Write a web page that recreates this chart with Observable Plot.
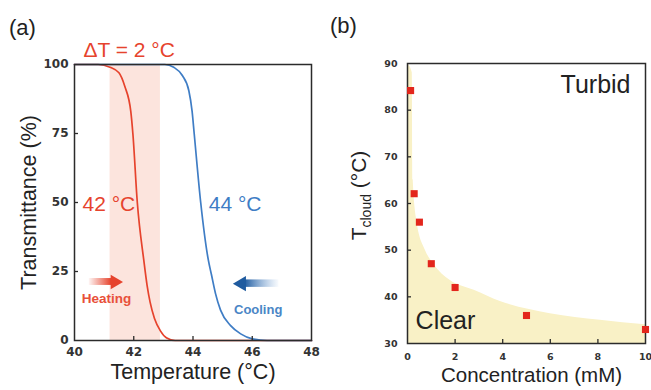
<!DOCTYPE html>
<html><head><meta charset="utf-8">
<script src="https://cdn.jsdelivr.net/npm/d3@7"></script>
<script src="https://cdn.jsdelivr.net/npm/@observablehq/plot@0.6"></script>
<style>
body{margin:0;background:#fff}
#wrap{position:relative;width:651px;height:390px;overflow:hidden;font-family:"Liberation Sans",Arial,sans-serif}
#wrap svg{position:absolute;top:0;overflow:visible}
.plabel{position:absolute;font-size:22px;color:#222;line-height:1}
</style></head><body>
<div id="wrap"><div class="plabel" style="left:9px;top:17px">(a)</div><div class="plabel" style="left:330px;top:15px">(b)</div></div>
<script>
// ---- Panel (a): transmittance vs temperature ----
const tempTicks = [40, 42, 44, 46, 48];
const transTicks = [0, 25, 50, 75, 100];
const heatT   = [40, 40.8, 41.2, 41.5, 41.7, 41.9, 41.97, 42.12, 42.34, 42.45, 42.55, 42.7, 42.9, 43.1, 43.4, 48];
const heatPct = [100, 100, 99, 97, 92, 83, 75, 50, 29, 20, 14, 8, 3.5, 1, 0, 0];
const coolT   = [40, 43.05, 43.35, 43.64, 43.86, 43.97, 44.04, 44.26, 44.52, 44.62, 44.76, 44.93, 45.27, 45.61, 46.0, 46.5, 48];
const coolPct = [100, 100, 99, 96, 90.5, 83, 75, 50, 29, 24, 17, 11, 5.4, 2.4, 0.6, 0, 0];
const hysteresisBand = [41.2, 42.9];
const xLabelA = "Temperature (°C)";
const yLabelA = "Transmittance (%)";
const annA = [
  {text: "ΔT = 2 °C", x: 40.3, y: 105},
  {text: "42 °C", x: 40.27, y: 49.5},
  {text: "44 °C", x: 44.53, y: 49.5}
];
const heatArrow = {x1: 40.5, x2: 41.25, tip: 41.36, y: 21.2, label: "Heating", lx: 41.08, ly: 15};
const coolArrow = {x1: 46.9, x2: 45.75, tip: 45.64, y: 20.6, label: "Cooling", lx: 46.2, ly: 11.2};

// ---- Panel (b): cloud point vs concentration ----
const concTicks = [0, 2, 4, 6, 8, 10];
const tcloudTicks = [30, 40, 50, 60, 70, 80, 90];
const concMM = [0.13, 0.28, 0.5, 1, 2, 5, 10];
const tCloud = [84.2, 62.1, 56, 47.1, 42, 36, 33];
const clearC = [0, 0.2, 0.24, 0.4, 0.75, 1.1, 1.8, 2.8, 3.9, 6, 8.1, 10];
const clearT = [90, 88, 65, 56, 50, 47, 43.5, 41.4, 39, 36.4, 35, 34];
const xLabelB = "Concentration (mM)";
const yLabelB = "Tcloud (°C)";
const annB = [
  {text: "Turbid", x: 9.37, y: 85.3},
  {text: "Clear", x: 0.34, y: 34.9}
];

const red = "#e6432d", blue = "#3f7dc5", ink = "#2b2b2b";
const LF = "Liberation Sans, Arial, sans-serif";

const heatData = heatT.map((t, i) => ({t, p: heatPct[i]}));
const coolData = coolT.map((t, i) => ({t, p: coolPct[i]}));
const pts = concMM.map((c, i) => ({c, t: tCloud[i]}));
const boundary = clearC.map((c, i) => ({c, t: clearT[i]}));

const tickTextA = {tickSize: 0, fontSize: 12, fontWeight: "bold", fill: "#333", label: null};
const plotA = Plot.plot({
  width: 330, height: 390, marginLeft: 74, marginRight: 19, marginTop: 64, marginBottom: 50,
  style: {fontFamily: "DejaVu Sans", background: "transparent", overflow: "visible"},
  x: {domain: [40, 48]}, y: {domain: [0, 100]},
  marks: [
    Plot.rect([hysteresisBand], {x1: d => d[0], x2: d => d[1], y1: 0, y2: 100, fill: "#fce4dd"}),
    Plot.line(heatData, {x: "t", y: "p", stroke: red, strokeWidth: 1.7, curve: "monotone-x"}),
    Plot.line(coolData, {x: "t", y: "p", stroke: blue, strokeWidth: 1.7, curve: "monotone-x"}),
    Plot.frame({stroke: ink, strokeWidth: 1.5}),
    Plot.tickX(tempTicks.slice(1, -1), {x: d => d, insetTop: 272, stroke: ink, strokeWidth: 1.3}),
    Plot.tickY(transTicks.slice(1, -1), {y: d => d, insetRight: 233, stroke: ink, strokeWidth: 1.3}),
    Plot.axisX({...tickTextA, ticks: tempTicks, tickPadding: 7}),
    Plot.axisY({...tickTextA, ticks: transTicks, tickPadding: 6}),
    // arrows
    Plot.rect([heatArrow], {x1: "x1", x2: "x2", y1: d => d.y - 1.25, y2: d => d.y + 1.25, fill: "url(#gradHeat)"}),
    Plot.dot([heatArrow], {x: "tip", y: "y", symbol: "triangle", r: 5.3, rotate: 90, fill: red}),
    Plot.text([heatArrow], {x: "lx", y: "ly", text: "label", fill: "#e8503a", fontSize: 13.5, fontWeight: "bold", fontFamily: LF}),
    Plot.rect([coolArrow], {x1: "x2", x2: "x1", y1: d => d.y - 1.35, y2: d => d.y + 1.35, fill: "url(#gradCool)"}),
    Plot.dot([coolArrow], {x: "tip", y: "y", symbol: "triangle", r: 5.6, rotate: -90, fill: "#1f5b9f"}),
    Plot.text([coolArrow], {x: "lx", y: "ly", text: "label", fill: "#4a86c6", fontSize: 13, fontWeight: "bold", fontFamily: LF}),
    // annotations
    Plot.text([annA[0]], {x: "x", y: "y", text: "text", fill: red, fontSize: 21, textAnchor: "start", fontFamily: LF}),
    Plot.text([annA[1]], {x: "x", y: "y", text: "text", fill: red, fontSize: 21, textAnchor: "start", fontFamily: LF}),
    Plot.text([annA[2]], {x: "x", y: "y", text: "text", fill: blue, fontSize: 21, textAnchor: "start", fontFamily: LF}),
    Plot.text([xLabelA], {text: d => d, frameAnchor: "bottom", textAnchor: "middle", dy: 38, fontSize: 21.5, fill: "#222", fontFamily: LF}),
    Plot.text([yLabelA], {text: d => d, frameAnchor: "left", textAnchor: "middle", rotate: -90, dx: -45, fontSize: 21.5, fill: "#222", fontFamily: LF})
  ]
});

const tickTextB = {tickSize: 0, tickPadding: 10, fontSize: 9.5, fontWeight: "bold", fill: "#333", label: null};
const plotB = Plot.plot({
  width: 321, height: 390, marginLeft: 77, marginRight: 6, marginTop: 63, marginBottom: 47,
  style: {fontFamily: "DejaVu Sans", background: "transparent", overflow: "visible"},
  x: {domain: [0, 10]}, y: {domain: [30, 90]},
  marks: [
    Plot.areaY(boundary, {x: "c", y1: 30, y2: "t", fill: "#f9f1c6", curve: "monotone-x"}),
    Plot.frame({stroke: ink, strokeWidth: 1.5}),
    Plot.tickX(concTicks.slice(1, -1), {x: d => d, insetTop: 276, stroke: ink, strokeWidth: 1.3}),
    Plot.tickY(tcloudTicks.slice(1, -1), {y: d => d, insetRight: 234, stroke: ink, strokeWidth: 1.3}),
    Plot.axisX({...tickTextB, ticks: concTicks}),
    Plot.axisY({...tickTextB, ticks: tcloudTicks}),
    Plot.dot(pts, {x: "c", y: "t", symbol: "square", r: 4, fill: "#e3261c"}),
    Plot.text([annB[0]], {x: "x", y: "y", text: "text", textAnchor: "end", fontSize: 25, fill: "#222", fontFamily: LF}),
    Plot.text([annB[1]], {x: "x", y: "y", text: "text", textAnchor: "start", fontSize: 25, fill: "#222", fontFamily: LF}),
    Plot.text([xLabelB], {text: d => d, frameAnchor: "bottom", textAnchor: "middle", dy: 38, dx: 5, fontSize: 20.5, fill: "#222", fontFamily: LF}),
    Plot.text([yLabelB], {text: d => d, frameAnchor: "left", textAnchor: "middle", rotate: -90, dx: -48, dy: -8, fontSize: 21, fill: "#222", fontFamily: LF})
  ]
});

// gradients for the arrows
const NS = "http://www.w3.org/2000/svg";
function addGrad(svg, id, stops) {
  const defs = document.createElementNS(NS, "defs");
  const g = document.createElementNS(NS, "linearGradient");
  g.setAttribute("id", id);
  g.setAttribute("x1", "0"); g.setAttribute("x2", "1"); g.setAttribute("y1", "0"); g.setAttribute("y2", "0");
  for (const [o, c, op] of stops) {
    const s = document.createElementNS(NS, "stop");
    s.setAttribute("offset", o); s.setAttribute("stop-color", c); s.setAttribute("stop-opacity", op);
    g.appendChild(s);
  }
  defs.appendChild(g);
  svg.insertBefore(defs, svg.firstChild);
}
addGrad(plotA, "gradHeat", [[0, red, 0.05], [1, red, 1]]);
addGrad(plotA, "gradCool", [[0, "#1f5b9f", 1], [1, "#6f9fd6", 0.05]]);

plotA.style.left = "0px";
plotB.style.left = "330px";
const wrap = document.getElementById("wrap");
wrap.appendChild(plotA);
wrap.appendChild(plotB);

// subscript in T_cloud label
const lab = Array.from(plotB.querySelectorAll("text")).find(t => t.textContent === yLabelB);
if (lab) {
  lab.textContent = "";
  const parts = [["T", null, null], ["cloud", "14px", "5"], [" (°C)", null, "-5"]];
  for (const [txt, fs, dy] of parts) {
    const ts = document.createElementNS(NS, "tspan");
    ts.textContent = txt;
    if (fs) ts.setAttribute("font-size", fs);
    if (dy) ts.setAttribute("dy", dy);
    lab.appendChild(ts);
  }
}
</script>
</body></html>
